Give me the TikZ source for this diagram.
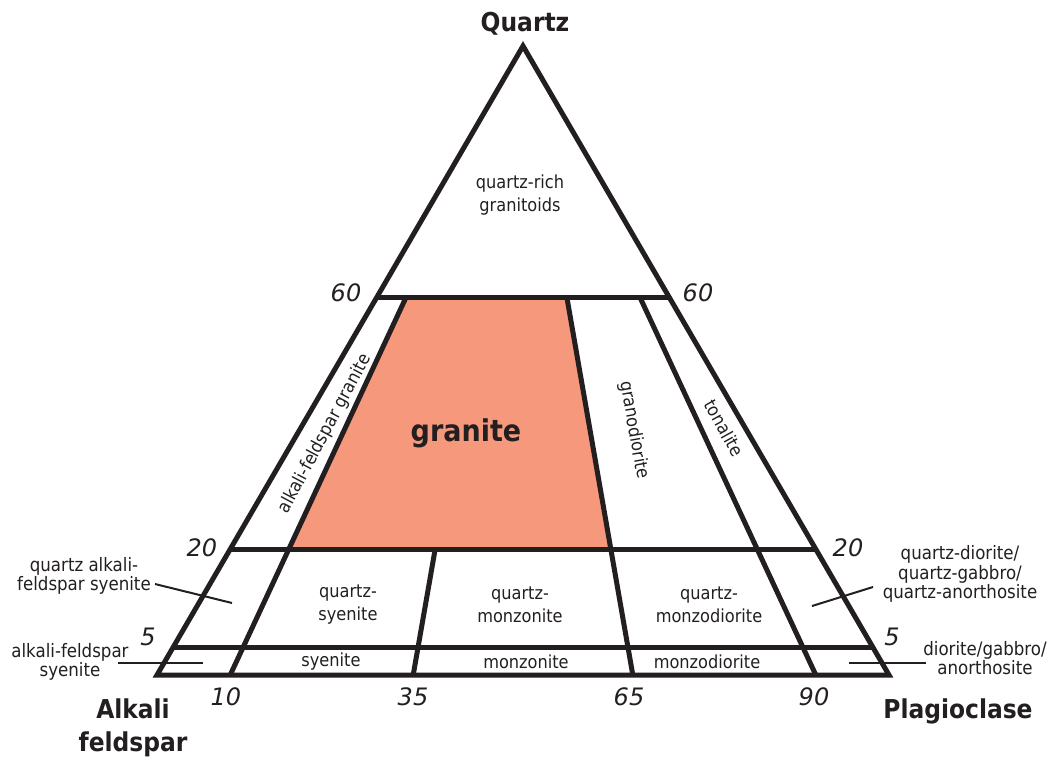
\documentclass[tikz,border=0pt]{standalone}
\usepackage{fontspec}
\setmainfont{DejaVu Sans}
\newfontfamily\condfont{DejaVu Sans Condensed}
\usetikzlibrary{calc}
\definecolor{granitefill}{HTML}{F5987B}
\definecolor{inkc}{HTML}{231F20}
\tikzset{
  frame/.style={draw=inkc,line width=5pt,line join=miter},
  divline/.style={draw=inkc,line width=5pt},
  leader/.style={draw=inkc,line width=2pt},
  apexlabel/.style={font=\condfont\fontsize{26}{28}\selectfont\bfseries,text=inkc,align=center,inner sep=0pt},
  tick/.style={font=\fontsize{24}{25}\selectfont\itshape,text=inkc,inner sep=0pt},
  field/.style={font=\condfont\fontsize{18}{23}\selectfont,text=inkc,align=center,inner sep=0pt},
  outlabel/.style={font=\condfont\fontsize{18.5}{19.5}\selectfont,text=inkc,align=center,inner sep=0pt},
}
\begin{document}
\begin{tikzpicture}[x=1pt,y=-1pt]
\useasboundingbox (0,0) rectangle (1056,758);
% corners
\coordinate (A) at (157,675);
\coordinate (P) at (889,675);
\coordinate (Q) at (523,46);
% level lines
\coordinate (L60) at (377,297);
\coordinate (R60) at (669,297);
\coordinate (L20) at (230.3,549);
\coordinate (R20) at (815.7,549);
\coordinate (L5) at (173.3,647);
\coordinate (R5) at (872.7,647);
% bottom points
\coordinate (B10) at (230.2,675);
\coordinate (B35) at (413.2,675);
\coordinate (B65) at (632.8,675);
\coordinate (B90) at (815.8,675);
% division line tops
\coordinate (T10) at (406.2,297);
\coordinate (T65) at (566.8,297);
\coordinate (T90) at (639.8,297);
\coordinate (T35) at (435.2,549);
\coordinate (M10) at (288.8,549);
\coordinate (M65) at (610.8,549);
% granite field
\fill[granitefill] (T10) -- (T65) -- (M65) -- (M10) -- cycle;
% lines
\draw[divline] (L60) -- (R60);
\draw[divline] (L20) -- (R20);
\draw[divline] (L5) -- (R5);
\draw[divline] (T10) -- (B10);
\draw[divline] (T65) -- (B65);
\draw[divline] (T90) -- (B90);
\draw[divline] (T35) -- (B35);
\draw[frame] (A) -- (P) -- (Q) -- cycle;
% apex labels
\node[apexlabel] (lq) at (525,24) {Quartz};
\node[apexlabel,align=center] (la) at (133,728) {Alkali\\[5pt]feldspar};
\node[apexlabel] (lp) at (958,711) {Plagioclase};
% ticks
\node[tick] (t60l) at (346,293) {60};
\node[tick] (t60r) at (698,293) {60};
\node[tick] (t20l) at (202,548) {20};
\node[tick] (t20r) at (848,548) {20};
\node[tick] (t5l) at (148,637) {5};
\node[tick] (t5r) at (892,637) {5};
\node[tick] (t10) at (226,697) {10};
\node[tick] (t35) at (413,697) {35};
\node[tick] (t65) at (629,697) {65};
\node[tick] (t90) at (814,697) {90};
% fields
\node[field] (fqr) at (520,195) {quartz-rich\\granitoids};
\node[font=\condfont\fontsize{30}{31}\selectfont\bfseries,text=inkc,inner sep=0pt] (fgr) at (466,433) {granite};
\node[field,rotate=62] (fafg) at (325,434) {alkali-feldspar granite};
\node[field,rotate=-80] (fgd) at (634,430) {granodiorite};
\node[field,rotate=-61] (fton) at (724,428) {tonalite};
\node[field] (fqs) at (348,605) {quartz-\\syenite};
\node[field] (fqm) at (520,605) {quartz-\\monzonite};
\node[field] (fqmd) at (709,605) {quartz-\\monzodiorite};
\node[field] (fs) at (331,662) {syenite};
\node[field] (fm) at (526,662) {monzonite};
\node[field] (fmd) at (707,662) {monzodiorite};
% outside labels with leaders
\node[outlabel] (oqafs) at (84,576) {quartz alkali-\\feldspar syenite};
\node[outlabel] (oafs) at (70,662) {alkali-feldspar\\syenite};
\node[outlabel] (oqd) at (960,574) {quartz-diorite/\\quartz-gabbro/\\quartz-anorthosite};
\node[outlabel] (od) at (985,658) {diorite/gabbro/\\anorthosite};
\coordinate (s1) at (155,584);
\coordinate (e1) at (232,603);
\coordinate (s2) at (118,663);
\coordinate (e2) at (203,663);
\coordinate (s3) at (873,587);
\coordinate (e3) at (812,606);
\coordinate (s4) at (926,663);
\coordinate (e4) at (849,663);
\draw[leader] (s1) -- (e1);
\draw[leader] (s2) -- (e2);
\draw[leader] (s3) -- (e3);
\draw[leader] (s4) -- (e4);
\end{tikzpicture}
\end{document}
